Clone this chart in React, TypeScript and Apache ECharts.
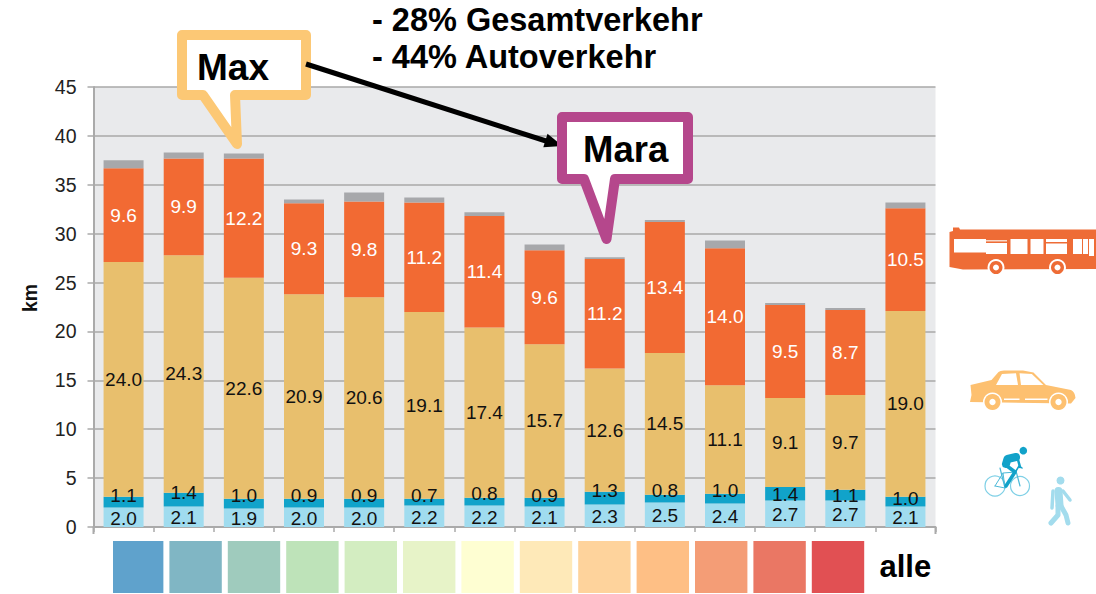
import React, { useEffect, useRef } from "react";
import * as echarts from "echarts";

const categories = ["1", "2", "3", "4", "5", "6", "7", "8", "9", "10", "11", "12", "13", "alle"];
const walk = [2.0, 2.1, 1.9, 2.0, 2.0, 2.2, 2.2, 2.1, 2.3, 2.5, 2.4, 2.7, 2.7, 2.1];
const bike = [1.1, 1.4, 1.0, 0.9, 0.9, 0.7, 0.8, 0.9, 1.3, 0.8, 1.0, 1.4, 1.1, 1.0];
const car = [24.0, 24.3, 22.6, 20.9, 20.6, 19.1, 17.4, 15.7, 12.6, 14.5, 11.1, 9.1, 9.7, 19.0];
const bus = [9.6, 9.9, 12.2, 9.3, 9.8, 11.2, 11.4, 9.6, 11.2, 13.4, 14.0, 9.5, 8.7, 10.5];
const other = [0.8, 0.6, 0.5, 0.4, 0.9, 0.5, 0.4, 0.6, 0.2, 0.2, 0.8, 0.2, 0.2, 0.6];
const bikeLabelNudge = [-7, -7, -8, -8, -8, -7, -8, -7, -8, -8, -8, 1, 0, -3];
const swatchColors = [
  "#5fa2cc", "#80b6c4", "#9fcbbd", "#bee3b9", "#d3edc1", "#e7f3c8", "#fefed2",
  "#fee9b8", "#fed39c", "#febf85", "#f49d76", "#ea7764", "#e15053",
];
const noteLines = ["- 28% Gesamtverkehr", "- 44% Autoverkehr"];

const FONT = '"Liberation Sans", Arial, sans-serif';
const BUS = "#ee6c36";
const CAR = "#fdc070";
const BIKE = "#12a2c9";
const WALK = "#a3dced";

echarts.graphic.registerShape(
  "busBody",
  echarts.graphic.extendPath(
    "M949.5 232 L953 231 L953 227.5 L959 227.5 L960 229.5 L1096 229.5 L1096 269 L963 269.5 L949.5 267 Z",
    {}
  )
);
echarts.graphic.registerShape(
  "carBody",
  echarts.graphic.extendPath(
    "M970.5 385 L991.5 380 L998.5 372 Q1000 370.5 1004 370.5 L1023 370.5 L1033.5 372.5 L1046 385 L1071 390 Q1075 392 1075.5 398 L1071 403.5 L970 402 L971.5 395 Z",
    {}
  )
);

function callout(points: number[][], color: string) {
  return {
    type: "polygon",
    z: 100,
    shape: { points },
    style: { fill: "#ffffff", stroke: color, lineWidth: 10, lineJoin: "round" },
  };
}
function boldText(x: number, y: number, text: string, size: number) {
  return {
    type: "text",
    z: 101,
    x,
    y,
    style: { text, fill: "#000000", font: `bold ${size}px ${FONT}`, textAlign: "left", textVerticalAlign: "middle" },
  };
}
function rect(x: number, y: number, width: number, height: number, fill: string) {
  return { type: "rect", z: 90, shape: { x, y, width, height }, style: { fill } };
}
function dot(cx: number, cy: number, r: number, fill: string) {
  return { type: "circle", z: 91, shape: { cx, cy, r }, style: { fill } };
}
function stroke(points: number[][], color: string, lineWidth: number) {
  return {
    type: "polyline",
    z: 92,
    shape: { points },
    style: { stroke: color, lineWidth, lineCap: "round", lineJoin: "round", fill: "none" },
  };
}
function wheel(cx: number, cy: number, color: string, outer: number, mid: number, hub: number) {
  return [dot(cx, cy, outer, "#ffffff"), dot(cx, cy, mid, color), dot(cx, cy, hub, "#ffffff")];
}
function ring(cx: number, cy: number, r: number) {
  return {
    type: "circle",
    z: 91,
    shape: { cx, cy, r },
    style: { fill: "none", stroke: "#7fd0e6", lineWidth: 1.2 },
  };
}

function decorations() {
  const els: any[] = [];
  // swatches
  swatchColors.forEach((c, i) => {
    const x = 111 + i * 58.4;
    els.push(i === 0 ? rect(113, 541, 50.4, 52, c) : rect(x, 541, 52.4, 52, c));
  });
  els.push(boldText(879.5, 566, "alle", 31));
  // x-axis end ticks
  els.push({ type: "line", z: 5, shape: { x1: 93.5, y1: 527, x2: 93.5, y2: 534 }, style: { stroke: "#aaaaaa", lineWidth: 2 } });
  els.push({ type: "line", z: 5, shape: { x1: 935.5, y1: 527, x2: 935.5, y2: 534 }, style: { stroke: "#aaaaaa", lineWidth: 2 } });
  // notes
  noteLines.forEach((t, i) => els.push(boldText(372, 20 + i * 37, t, 32.5)));
  // Max callout, then the arrow that starts on its border
  els.push(callout([[182, 35], [306, 35], [306, 95], [235, 95], [237, 144], [203, 95], [182, 95]], "#fcc875"));
  els.push(boldText(197, 67, "Max", 37));
  els.push({
    type: "line",
    z: 100,
    shape: { x1: 306, y1: 64, x2: 546, y2: 141 },
    style: { stroke: "#000000", lineWidth: 5 },
  });
  els.push({
    type: "polygon",
    z: 100,
    shape: { points: [[562.5, 146], [543.3, 147.2], [547.5, 133.8]] },
    style: { fill: "#000000" },
  });
  // Mara callout
  els.push(callout([[562, 117], [688, 117], [688, 179], [615, 179], [606.5, 239], [584, 179], [562, 179]], "#b5478c"));
  els.push(boldText(583, 149, "Mara", 36.5));
  // bus
  els.push({ type: "busBody", z: 90, x: 0, y: 0, style: { fill: BUS } });
  els.push(rect(954, 239, 32, 13.5, "#ffffff"));
  els.push(rect(986, 240, 21, 1.5, "#f8d8c8"));
  els.push(rect(986, 243, 21, 11, "#ffffff"));
  els.push(rect(1010.5, 239, 17, 15, "#ffffff"));
  els.push(rect(1030.5, 239, 13, 15, "#ffffff"));
  els.push(rect(1046, 239, 21, 3, "#ffffff"));
  els.push(rect(1046, 243.5, 21, 10.5, "#ffffff"));
  els.push(rect(1073, 239, 9, 15, "#ffffff"));
  els.push(rect(1083, 239, 5, 15, "#ffffff"));
  els.push(rect(1089, 239, 5, 17, "#ffffff"));
  els.push(...wheel(996, 267.5, BUS, 8.5, 6.5, 3));
  els.push(...wheel(1057.5, 267.5, BUS, 8.5, 6.5, 3));
  // car
  els.push({ type: "carBody", z: 90, x: 0, y: 0, style: { fill: CAR } });
  els.push({ type: "polygon", z: 91, shape: { points: [[996, 385], [1002, 374], [1016, 373.3], [1018, 385]] }, style: { fill: "#ffffff" } });
  els.push({ type: "polygon", z: 91, shape: { points: [[1019.5, 373.3], [1031.8, 374], [1043.4, 385], [1021, 385]] }, style: { fill: "#ffffff" } });
  els.push(rect(1004, 398.5, 15.5, 1.5, "#ffffff"));
  els.push(rect(1025, 398.5, 22.5, 1.5, "#ffffff"));
  els.push(...wheel(992.5, 402, CAR, 9.5, 8, 3.2));
  els.push(...wheel(1058.5, 402, CAR, 9.5, 8, 3.2));
  // bike
  els.push(ring(995, 486, 10));
  els.push(ring(1020, 486, 9.5));
  els.push(stroke([[995, 486], [1003, 473], [1005, 488], [995, 486]], "#4db9d8", 1));
  els.push(stroke([[1000, 468], [1005, 488], [1016, 471], [1020, 486]], "#4db9d8", 1.2));
  els.push(stroke([[1003, 473], [1016, 472]], "#4db9d8", 1.2));
  els.push(stroke([[1016, 471], [1019, 466], [1022, 468]], BIKE, 1.5));
  els.push(dot(1023.3, 450.7, 3.8, BIKE));
  els.push(stroke([[1006, 464], [1007.5, 459], [1016, 457]], BIKE, 8));
  els.push(stroke([[1017, 456], [1020, 467]], BIKE, 2.5));
  els.push(stroke([[1007, 466], [1015, 472], [1006, 486]], BIKE, 3.5));
  // walker
  els.push(dot(1060.5, 480.5, 4, WALK));
  els.push(stroke([[1058.5, 491], [1059.5, 505]], WALK, 8));
  els.push(stroke([[1053, 491], [1052, 508]], WALK, 3.5));
  els.push(stroke([[1063, 491], [1070, 500]], WALK, 3.5));
  els.push(stroke([[1058, 506], [1058, 515], [1051, 523]], WALK, 5));
  els.push(stroke([[1061, 506], [1066, 515], [1068, 523]], WALK, 5));
  return els;
}

function barSeries(name: string, data: any[], color: string, labelColor: string | null) {
  return {
    name,
    type: "bar",
    stack: "km",
    barWidth: 40,
    data,
    itemStyle: { color },
    label: labelColor
      ? {
          show: true,
          position: "inside",
          color: labelColor,
          fontFamily: FONT,
          fontSize: 19,
          formatter: (p: any) => Number(p.value).toFixed(1),
        }
      : { show: false },
  };
}

export default function App() {
  const ref = useRef<HTMLDivElement>(null);
  useEffect(() => {
    document.body.style.margin = "0";
    const chart = echarts.init(ref.current!, null, { renderer: "svg" });
    chart.setOption({
      animation: false,
      backgroundColor: "#ffffff",
      grid: {
        left: 93.5,
        right: 160.5,
        top: 87,
        bottom: 67,
        show: true,
        backgroundColor: "#e9eaec",
        borderWidth: 0,
      },
      xAxis: {
        type: "category",
        data: categories,
        axisLabel: { show: false },
        axisLine: { lineStyle: { color: "#aaaaaa", width: 2 } },
        axisTick: { show: true, length: 5, lineStyle: { color: "#aaaaaa", width: 1.5 } },
      },
      yAxis: {
        type: "value",
        min: 0,
        max: 45,
        interval: 5,
        name: "km",
        nameLocation: "middle",
        nameRotate: 90,
        nameGap: 54,
        nameTextStyle: { fontFamily: FONT, fontWeight: "bold", fontSize: 19.5, color: "#111111", padding: [0, 0, 0, 18] },
        axisLabel: { fontFamily: FONT, fontSize: 19.5, color: "#222222", margin: 17 },
        axisLine: { show: true, lineStyle: { color: "#aaaaaa", width: 2 } },
        axisTick: { show: true, length: 6, lineStyle: { color: "#aaaaaa", width: 1.5 } },
        splitLine: { show: true, lineStyle: { color: "#a9a9a9", width: 1.6 } },
      },
      series: [
        {
          ...barSeries("zu Fuß", walk, "#a0dcef", "#111111"),
          label: { ...barSeries("", [], "", "#111111").label, offset: [0, 1] },
        },
        barSeries(
          "Velo",
          bike.map((v, i) => ({ value: v, label: { offset: [0, bikeLabelNudge[i]] } })),
          "#11a3ca",
          "#111111"
        ),
        barSeries("Auto", car, "#e8bf6d", "#111111"),
        barSeries("ÖV", bus, "#f26a33", "#ffffff"),
        barSeries("Übrige", other, "#a7a8ab", null),
      ],
      graphic: { z: 100, elements: decorations() },
    });
    return () => chart.dispose();
  }, []);
  return <div ref={ref} style={{ position: "absolute", left: 0, top: 0, width: 1096, height: 594 }} />;
}
